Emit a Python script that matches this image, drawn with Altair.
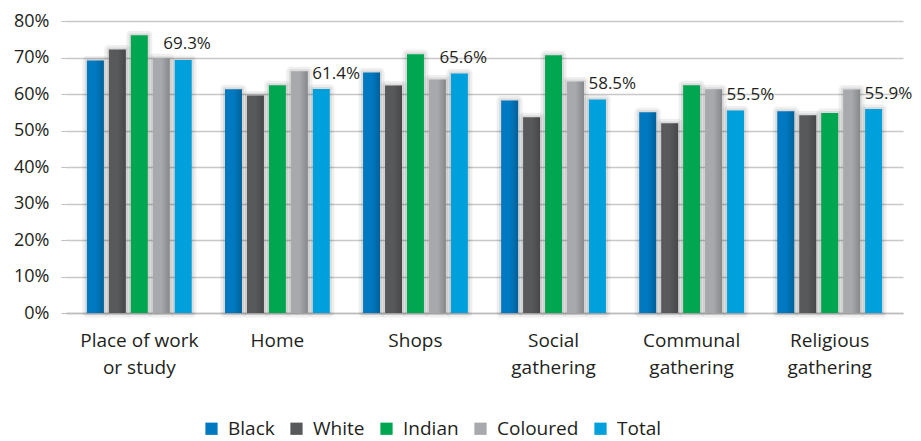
import altair as alt
import pandas as pd

categories = ["Place of work\nor study", "Home", "Shops", "Social\ngathering",
              "Communal\ngathering", "Religious\ngathering"]
series = ["Black", "White", "Indian", "Coloured", "Total"]
black = [69.2, 61.3, 65.9, 58.2, 55.0, 55.3]
white = [72.2, 59.6, 62.3, 53.6, 52.0, 54.2]
indian = [76.1, 62.4, 70.9, 70.6, 62.4, 54.8]
coloured = [69.8, 66.2, 64.0, 63.4, 61.3, 61.2]
total = [69.3, 61.4, 65.6, 58.5, 55.5, 55.9]
colors = ["#0079C1", "#58595B", "#00A650", "#A7A9AC", "#00A0DC"]

values = {"Black": black, "White": white, "Indian": indian,
          "Coloured": coloured, "Total": total}
rows = []
for s in series:
    for i, (c, v) in enumerate(zip(categories, values[s])):
        rows.append({"category": c, "series": s, "value": v / 100.0,
                     "label": f"{v:.1f}%",
                     "colHigher": coloured[i] > total[i] + 1})
df = pd.DataFrame(rows)

FONT = "Open Sans"
TXT = "#231F20"

x = alt.X("category:N", sort=categories, title=None,
          scale=alt.Scale(paddingInner=0.206, paddingOuter=0.134),
          axis=alt.Axis(labelAngle=0, labelFontSize=19, labelFont=FONT,
                        labelColor=TXT, labelExpr="split(datum.label, '\\n')",
                        labelLineHeight=27, labelPadding=18, ticks=False,
                        domain=True, domainColor="#BDBDBD", domainWidth=1.5))
xo = alt.XOffset("series:N", sort=series,
                 scale=alt.Scale(paddingInner=0.227, paddingOuter=0.11))
y = alt.Y("value:Q", title=None,
          scale=alt.Scale(domain=[0, 0.8], nice=False),
          axis=alt.Axis(format=".0%", values=[i / 10 for i in range(9)],
                        labelFontSize=18, labelFont=FONT, labelColor=TXT,
                        labelPadding=12, tickSize=5, tickColor="#BDBDBD",
                        domain=False, gridColor="#C8C8C8", gridWidth=1.5))

shadow_outer = alt.Chart(df).mark_bar(
    fill="#000000", stroke="#000000", strokeWidth=9, strokeJoin="round",
    opacity=0.06, xOffset=-3
).encode(x=x, xOffset=xo, y=y)

shadow_inner = alt.Chart(df).mark_bar(
    fill="#000000", stroke="#000000", strokeWidth=4, strokeJoin="round",
    opacity=0.08, xOffset=-2
).encode(x=x, xOffset=xo, y=y)

bars = alt.Chart(df).mark_bar().encode(
    x=x, xOffset=xo, y=y,
    color=alt.Color("series:N", sort=series,
                    scale=alt.Scale(domain=series, range=colors),
                    legend=alt.Legend(title=None, orient="none", direction="horizontal",
                                      legendX=136, legendY=398,
                                      symbolType="square", symbolSize=150,
                                      symbolStrokeWidth=0, labelFontSize=19,
                                      labelFont=FONT, labelColor=TXT,
                                      labelOffset=7, columnPadding=12)),
)

shade = alt.Chart(df).transform_filter(
    alt.FieldOneOfPredicate(field="series", oneOf=["Black", "White", "Coloured"])
).mark_bar(
    color=alt.LinearGradient(
        gradient="linear", x1=0, x2=1, y1=0, y2=0,
        stops=[alt.GradientStop(color="rgba(0,0,0,0)", offset=0),
               alt.GradientStop(color="rgba(0,0,0,0)", offset=0.5),
               alt.GradientStop(color="rgba(0,0,0,0.2)", offset=1)])
).encode(x=x, xOffset=xo, y=y)

total_df = alt.Chart(df).transform_filter(alt.datum.series == "Total")

labels_right = total_df.transform_filter(alt.datum.colHigher).mark_text(
    align="left", baseline="middle", dx=-9, dy=-15, fontSize=17, font=FONT, color=TXT
).encode(x=x, xOffset=xo, y=y, text="label:N")

labels_left = total_df.transform_filter(~alt.datum.colHigher).mark_text(
    align="left", baseline="middle", dx=-20, dy=-16, fontSize=17, font=FONT, color=TXT
).encode(x=x, xOffset=xo, y=y, text="label:N")

chart = alt.layer(shadow_outer, shadow_inner, bars, shade,
                  labels_right, labels_left).properties(
    width=837, height=292,
    padding={"left": 58, "top": 13, "right": 10, "bottom": 127},
    autosize=alt.AutoSizeParams(type="none"),
).configure_view(stroke=None)

chart.save("out.html", embed_options={"renderer": "svg", "actions": False})
